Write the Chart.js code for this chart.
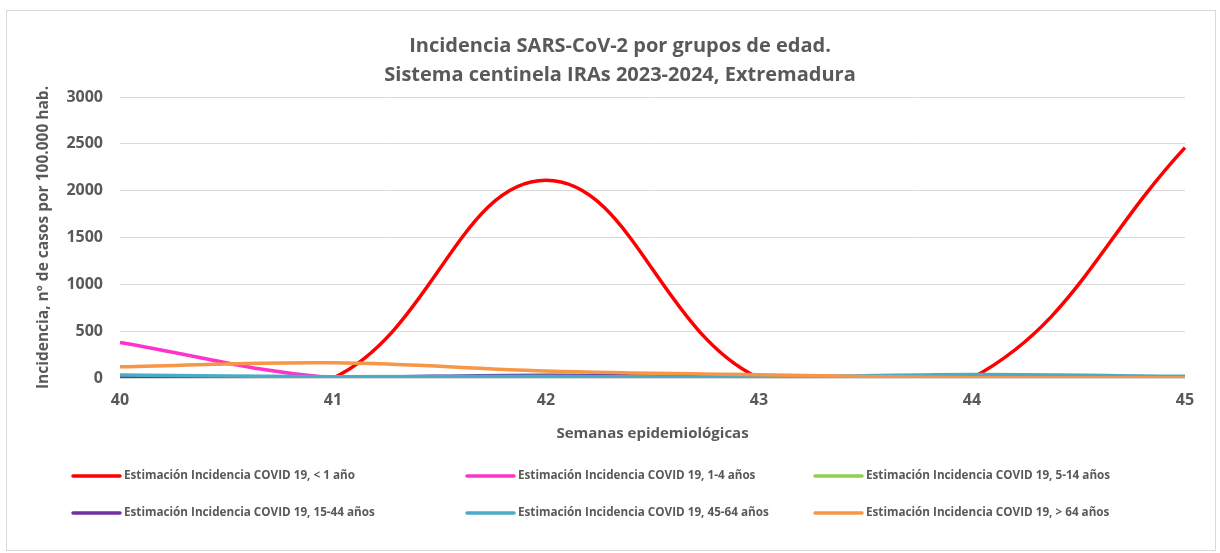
<!DOCTYPE html>
<html>
<head>
<meta charset="utf-8">
<script src="https://cdn.jsdelivr.net/npm/chart.js@4.4.1/dist/chart.umd.min.js"></script>
<style>
  html, body { margin: 0; padding: 0; background: #ffffff; }
  #wrap { width: 1220px; height: 553px; position: relative; }
</style>
</head>
<body>
<div id="wrap"><canvas id="c" width="1220" height="553"></canvas></div>
<script>
const weeks = ['40', '41', '42', '43', '44', '45'];
const yTicks = [0, 500, 1000, 1500, 2000, 2500, 3000];
const titleLines = ['Incidencia SARS-CoV-2 por grupos de edad.', 'Sistema centinela IRAs 2023-2024, Extremadura'];
const seriesLabels = [
  'Estimación Incidencia COVID 19, < 1 año',
  'Estimación Incidencia COVID 19, 1-4 años',
  'Estimación Incidencia COVID 19, 5-14 años',
  'Estimación Incidencia COVID 19, 15-44 años',
  'Estimación Incidencia COVID 19, 45-64 años',
  'Estimación Incidencia COVID 19, > 64 años'
];
const under1 = [0, 0, 2110, 0, 0, 2460];
const age1to4 = [380, 0, 0, 0, 0, 0];
const age5to14 = [0, 0, 5, 5, 0, 0];
const age15to44 = [8, 5, 30, 10, 5, 5];
const age45to64 = [32, 14, 20, 8, 38, 18];
const over64 = [120, 163, 75, 35, 4, 3];
const seriesValues = [under1, age1to4, age5to14, age15to44, age45to64, over64];
const seriesColors = ['#FF0000', '#FF33CC', '#92D050', '#7030A0', '#4BACC6', '#F79646'];

const TEXT = '#595959';
const FONT = '"Open Sans", Lato, sans-serif';

const borderPlugin = {
  id: 'outerBorder',
  beforeDraw(chart) {
    const ctx = chart.ctx;
    ctx.save();
    ctx.fillStyle = '#ffffff';
    ctx.fillRect(0, 0, chart.width, chart.height);
    ctx.strokeStyle = '#d9d9d9';
    ctx.lineWidth = 1;
    ctx.strokeRect(6.5, 10.5, 1209, 540);
    ctx.restore();
  }
};

const gridLegendPlugin = {
  id: 'gridLegend',
  afterDraw(chart) {
    const ctx = chart.ctx;
    const cols = [73, 467, 815];
    const rows = [476, 513];
    ctx.save();
    ctx.font = 'bold 11.7px ' + FONT;
    ctx.textBaseline = 'middle';
    ctx.textAlign = 'left';
    chart.data.datasets.forEach((ds, i) => {
      const x = cols[i % 3];
      const y = rows[Math.floor(i / 3)];
      ctx.strokeStyle = ds.borderColor;
      ctx.lineWidth = 3.5;
      ctx.lineCap = 'round';
      ctx.beginPath();
      ctx.moveTo(x, y);
      ctx.lineTo(x + 47, y);
      ctx.stroke();
      ctx.fillStyle = TEXT;
      ctx.fillText(ds.label, x + 51, y);
    });
    ctx.restore();
  }
};

const datasets = seriesLabels.map((lab, i) => ({
  label: lab,
  data: seriesValues[i],
  borderColor: seriesColors[i],
  backgroundColor: seriesColors[i],
  borderWidth: 3.5,
  pointRadius: 0,
  pointHoverRadius: 0,
  tension: 0.4,
  fill: false,
  order: seriesLabels.length - i
}));

new Chart(document.getElementById('c'), {
  type: 'line',
  data: { labels: weeks, datasets: datasets },
  plugins: [borderPlugin, gridLegendPlugin],
  options: {
    responsive: false,
    animation: false,
    layout: { padding: { left: 55, right: 35, top: 0, bottom: 100 } },
    plugins: {
      legend: { display: false },
      tooltip: { enabled: false },
      title: {
        display: true,
        text: titleLines,
        color: TEXT,
        font: { family: FONT, size: 20, weight: 'bold', lineHeight: 1.45 },
        padding: { top: 31.5, bottom: 7.5 }
      }
    },
    scales: {
      x: {
        offset: false,
        grid: { display: false, drawTicks: false },
        border: { display: false },
        ticks: { color: TEXT, padding: 12.4, font: { family: FONT, size: 16, weight: 'bold' } },
        title: {
          display: true,
          text: 'Semanas epidemiológicas',
          color: TEXT,
          font: { family: FONT, size: 15, weight: 'bold', lineHeight: 1.2 },
          padding: { top: 0, bottom: 10 }
        },
        afterFit(scale) { scale.height = 75; }
      },
      y: {
        min: 0,
        max: 3000,
        afterBuildTicks(scale) { scale.ticks = yTicks.map(v => ({ value: v })); },
        grid: { color: '#d9d9d9', lineWidth: 1, drawTicks: false },
        border: { display: false },
        ticks: {
          color: TEXT, padding: 17,
          font: { family: FONT, size: 16, weight: 'bold' },
          callback: (v) => String(v)
        },
        title: {
          display: true,
          text: 'Incidencia, nº de casos por 100.000 hab.',
          color: TEXT,
          font: { family: FONT, size: 15.5, weight: 'bold', lineHeight: 1.2 },
          padding: { top: -21, bottom: 0 }
        },
        afterFit(scale) { scale.width = 65; }
      }
    }
  }
});
</script>
</body>
</html>
